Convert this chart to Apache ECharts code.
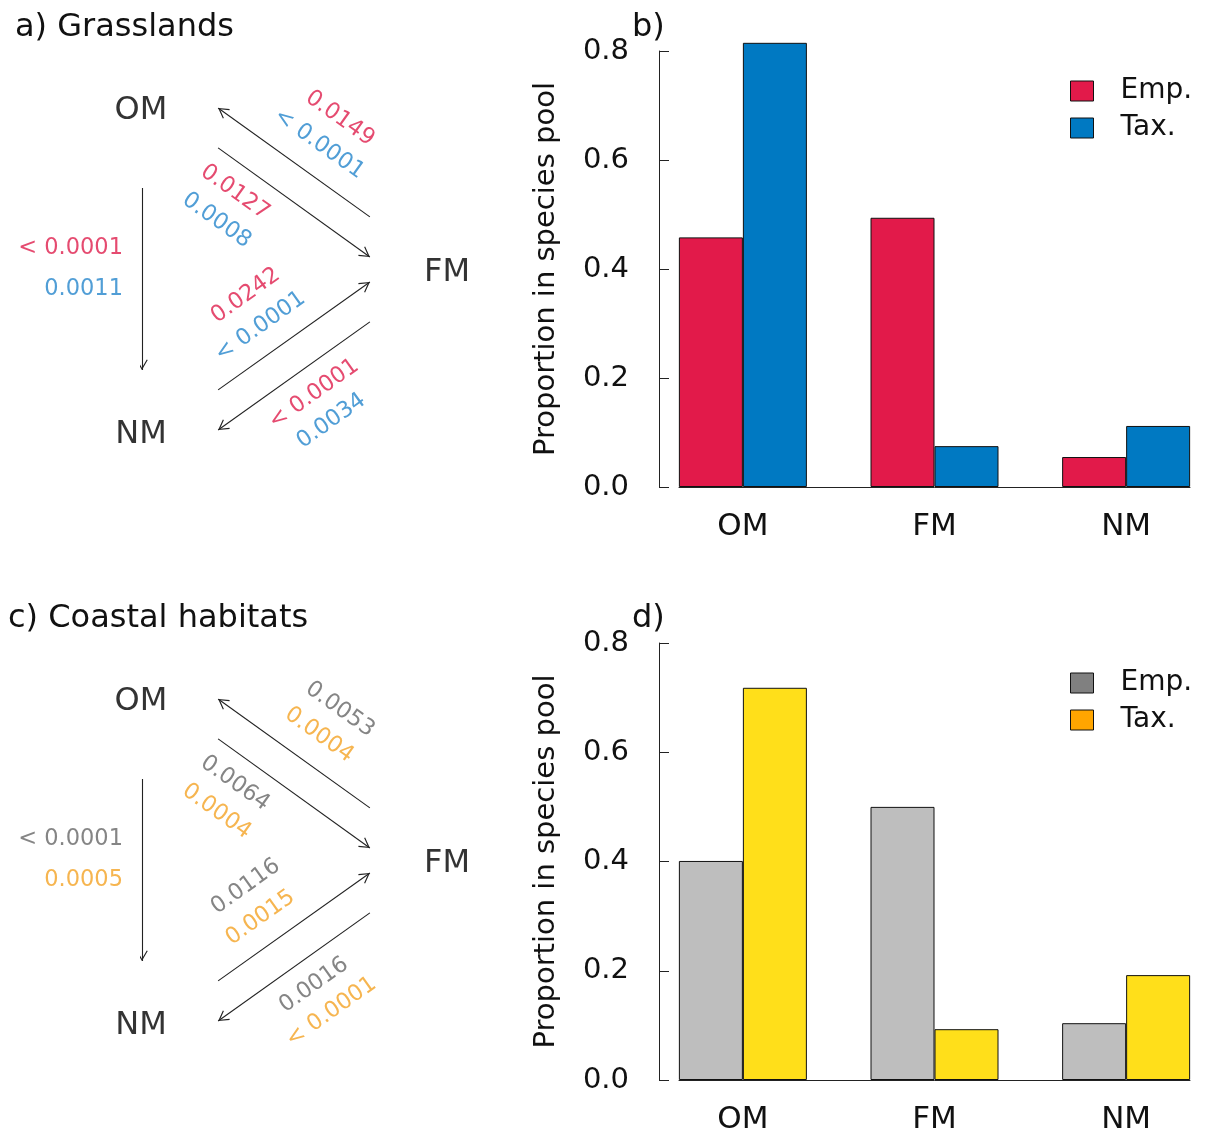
<!DOCTYPE html>
<html><head><meta charset="utf-8">
<script src="https://cdn.jsdelivr.net/npm/echarts@6/dist/echarts.min.js"></script>
<style>html,body{margin:0;padding:0;background:#fff}#c{width:1207px;height:1136px}</style>
</head><body><div id="c"></div>
<script>
// ---------- data ----------
const categories = ['OM', 'FM', 'NM'];
const seriesNames = ['Emp.', 'Tax.'];
const grassEmp = [0.458, 0.494, 0.055];
const grassTax = [0.815, 0.075, 0.112];
const coastEmp = [0.401, 0.500, 0.104];
const coastTax = [0.718, 0.093, 0.192];
const yTicks = [0.0, 0.2, 0.4, 0.6, 0.8];
const yTitle = 'Proportion in species pool';
const panelTitles = ['a) Grasslands', 'b)', 'c) Coastal habitats', 'd)'];
// transitions: FM→OM, OM→FM, OM→NM, NM→FM, FM→NM
const grassEmpP = ['0.0149', '0.0127', '< 0.0001', '0.0242', '< 0.0001'];
const grassTaxP = ['< 0.0001', '0.0008', '0.0011', '< 0.0001', '0.0034'];
const coastEmpP = ['0.0053', '0.0064', '< 0.0001', '0.0116', '0.0016'];
const coastTaxP = ['0.0004', '0.0004', '0.0005', '0.0015', '< 0.0001'];

// ---------- layout / style ----------
const FONT = 'DejaVu Sans';
const nodePos = { OM: [0, 1], FM: [1, 0.5], NM: [0, 0] };
const arrowGeom = [
  [[0.748, 0.664], [0.252, 1.0]],
  [[0.252, 0.877], [0.748, 0.540]],
  [[0.003, 0.753], [0.003, 0.191]],
  [[0.252, 0.130], [0.748, 0.463]],
  [[0.748, 0.340], [0.252, 0.006]]
];
const empLabelPos = [[0.650, 0.968], [0.307, 0.740], [-0.059, 0.566], [0.342, 0.421], [0.565, 0.117]];
const taxLabelPos = [[0.582, 0.889], [0.247, 0.653], [-0.059, 0.441], [0.390, 0.325], [0.622, 0.034]];
const labelRot = [-35.5, -35.5, 0, 35.5, 35.5];

const arrowPath = 'path://M0,0 L0.5,0 L0,0.5 Z M200,200 L199.5,200 L200,199.5 Z ' +
  'M100,100 L153,191 L144,196 L100,121 L56,196 L47,191 Z';

const grassColors = { emp: '#E21A4A', tax: '#0079C2', empText: '#DE1E4C', taxText: '#2686CC', empLeg: '#E21A4A', taxLeg: '#0079C2' };
const coastColors = { emp: '#BEBEBE', tax: '#FFDF1A', empText: '#666666', taxText: '#F4A224', empLeg: '#808080', taxLeg: '#FFA500' };

const barGrids = [
  { left: 679, top: 51, width: 511, height: 436 },
  { left: 679, top: 643, width: 511, height: 437 }
];
const diaGrids = [
  { left: 141, top: 108, width: 306, height: 324 },
  { left: 141, top: 699, width: 306, height: 324 }
];

const groupX = i => 2 + 3 * i;

const grid = [], xAxis = [], yAxis = [], series = [], legend = [];

function barPanel(k, emp, tax, col) {
  grid.push(barGrids[k]);
  xAxis.push({
    type: 'value', gridIndex: k, min: 1, max: 9, interval: 1,
    axisLine: { show: true, lineStyle: { color: '#222', width: 1 } },
    axisTick: { show: false }, splitLine: { show: false },
    axisLabel: {
      margin: 24, fontFamily: FONT, fontSize: 31, color: '#111',
      formatter: v => { const i = (v - 2) / 3; return Number.isInteger(i) && categories[i] ? categories[i] : ''; }
    }
  });
  yAxis.push({
    type: 'value', gridIndex: k, min: yTicks[0], max: yTicks[yTicks.length - 1],
    interval: yTicks[1] - yTicks[0], offset: 20,
    name: yTitle, nameLocation: 'middle', nameGap: 98,
    nameTextStyle: { fontFamily: FONT, fontSize: 29, color: '#111' },
    axisLine: { show: true, lineStyle: { color: '#222', width: 1 } },
    axisTick: { show: true, inside: true, length: 10, lineStyle: { color: '#222' } },
    splitLine: { show: false },
    axisLabel: { margin: 30, fontFamily: FONT, fontSize: 29, color: '#111', formatter: v => v.toFixed(1) }
  });
  [emp, tax].forEach((vals, s) => {
    series.push({
      type: 'bar', name: seriesNames[s], xAxisIndex: k, yAxisIndex: k,
      data: vals.map((v, i) => [groupX(i), v]),
      barWidth: 64, barGap: '0%', clip: false, silent: true,
      itemStyle: { color: s === 0 ? col.emp : col.tax, borderColor: '#111', borderWidth: 1 }
    });
  });
  legend.push({
    left: 1070, top: barGrids[k].top + 26, orient: 'vertical', icon: 'rect',
    itemWidth: 23, itemHeight: 20, itemGap: 9, selectedMode: false, padding: 0,
    data: seriesNames.map((n, s) => ({
      name: n, itemStyle: { color: s === 0 ? col.empLeg : col.taxLeg, borderColor: '#111', borderWidth: 1 }
    })),
    textStyle: { fontFamily: FONT, fontSize: 28, color: '#111', padding: [0, 0, 0, 22] }
  });
}

function diagram(k, empP, taxP, col) {
  const gi = grid.length;
  grid.push(diaGrids[k]);
  xAxis.push({ type: 'value', gridIndex: gi, min: 0, max: 1, show: false });
  yAxis.push({ type: 'value', gridIndex: gi, min: 0, max: 1, show: false });
  series.push({
    type: 'lines', coordinateSystem: 'cartesian2d', xAxisIndex: gi, yAxisIndex: gi,
    symbol: ['none', arrowPath], symbolSize: 22, silent: true,
    lineStyle: { color: '#222', width: 1.1, opacity: 1, curveness: 0 },
    itemStyle: { color: '#222' },
    data: arrowGeom.map(c => ({ coords: c }))
  });
  const items = [];
  empP.forEach((t, i) => items.push({
    value: empLabelPos[i],
    label: { formatter: t, color: col.empText, rotate: labelRot[i], align: labelRot[i] === 0 ? 'right' : 'center' }
  }));
  taxP.forEach((t, i) => items.push({
    value: taxLabelPos[i],
    label: { formatter: t, color: col.taxText, rotate: labelRot[i], align: labelRot[i] === 0 ? 'right' : 'center' }
  }));
  series.push({
    type: 'scatter', xAxisIndex: gi, yAxisIndex: gi, symbolSize: 1, clip: false, silent: true,
    itemStyle: { color: 'rgba(0,0,0,0)' },
    label: { show: true, position: 'inside', fontFamily: FONT, fontSize: 22.5, verticalAlign: 'middle', textBorderWidth: 0 },
    data: items
  });
  series.push({
    type: 'scatter', xAxisIndex: gi, yAxisIndex: gi, symbolSize: 1, clip: false, silent: true,
    itemStyle: { color: 'rgba(0,0,0,0)' },
    label: { show: true, position: 'inside', offset: [0, 3], fontFamily: FONT, fontSize: 32, color: '#000', textBorderWidth: 0, formatter: p => p.name },
    data: categories.map(c => ({ name: c, value: nodePos[c] }))
  });
}

barPanel(0, grassEmp, grassTax, grassColors);
barPanel(1, coastEmp, coastTax, coastColors);
diagram(0, grassEmpP, grassTaxP, grassColors);
diagram(1, coastEmpP, coastTaxP, coastColors);

const titleStyle = { fontFamily: FONT, fontSize: 32, fontWeight: 'normal', color: '#111' };
const title = [
  { text: panelTitles[0], left: 15, top: 12, padding: 0, textStyle: titleStyle },
  { text: panelTitles[1], left: 632, top: 12, padding: 0, textStyle: titleStyle },
  { text: panelTitles[2], left: 8, top: 603, padding: 0, textStyle: titleStyle },
  { text: panelTitles[3], left: 632, top: 603, padding: 0, textStyle: titleStyle }
];

const chart = echarts.init(document.getElementById('c'), null, { renderer: 'canvas' });
chart.setOption({ animation: false, backgroundColor: '#fff', title, grid, xAxis, yAxis, legend, series });
</script>
</body></html>
